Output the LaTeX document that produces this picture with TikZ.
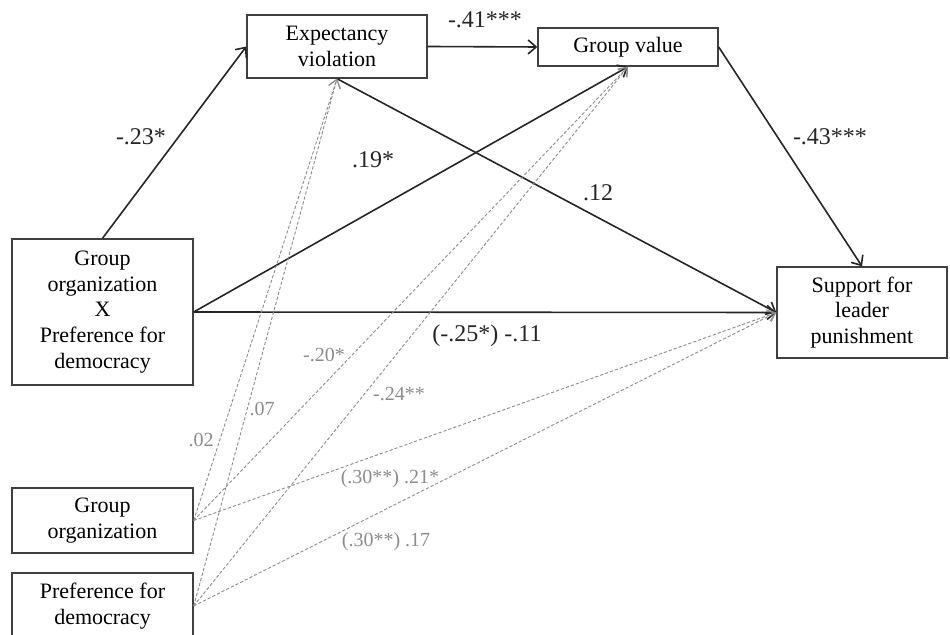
\documentclass[tikz,border=0pt]{standalone}
\usepackage{fontspec}
\setmainfont{Liberation Serif}
\usetikzlibrary{arrows.meta}

\begin{document}
\begin{tikzpicture}[x=0.5pt, y=-0.5pt,
  box/.style={draw=black!75, line width=0.7pt, align=center, inner sep=2pt,
    font=\fontsize{11}{12.8}\selectfont},
  mainarrow/.style={draw=black!85, line width=0.8pt, -{Straight Barb[length=4pt,width=7pt]}},
  ctrlarrow/.style={draw=black!45, line width=0.45pt, dash pattern=on 1.6pt off 1pt,
    -{Straight Barb[length=4pt,width=6pt]}},
  coef/.style={font=\fontsize{12}{14}\selectfont, text=black!85, inner sep=0pt},
  ctrlcoef/.style={font=\fontsize{10}{12}\selectfont, text=black!45, inner sep=0pt}]
  \useasboundingbox (0,0) rectangle (950,635);
  % mediators, outcome and predictors
  \node[box,minimum width=90pt,minimum height=31.5pt] (ev)  at (337,46.5) {Expectancy\\violation};
  \node[box,minimum width=90pt,minimum height=19pt]   (gv)  at (628,47)   {Group value};
  \node[box,minimum width=85pt,minimum height=45.5pt] (sup) at (862,312.5) {Support for\\leader\\punishment};
  \node[box,minimum width=90.5pt,minimum height=73pt] (gxp) at (102.5,312) {Group\\organization\\X\\Preference for\\democracy};
  \node[box,minimum width=90.5pt,minimum height=32.5pt] (go) at (102.5,520.5) {Group\\organization};
  \node[box,minimum width=90.5pt,minimum height=33pt] (pd)  at (102.5,606) {Preference for\\democracy};
  % main paths
  \draw[mainarrow] (gxp.north) -- (ev.west);
  \draw[mainarrow] (ev.east) -- (gv.west);
  \draw[mainarrow] (gv.east) -- (sup.north);
  \draw[mainarrow] (ev.south) -- (sup.west);
  \draw[mainarrow] (gxp.east) -- (gv.south);
  \draw[mainarrow] (gxp.east) -- (sup.west);
  % control paths
  \foreach \src in {go,pd}{
    \draw[ctrlarrow] (\src.east) -- (ev.south);
    \draw[ctrlarrow] (\src.east) -- (gv.south);
    \draw[ctrlarrow] (\src.east) -- (sup.west);
  }
  % coefficients
  \node[coef] (c1) at (141,137) {-.23*};
  \node[coef] (c2) at (485,20)  {-.41***};
  \node[coef] (c3) at (830,137) {-.43***};
  \node[coef] (c4) at (598,193) {.12};
  \node[coef] (c5) at (373,160) {.19*};
  \node[coef] (c6) at (487,336) {(-.25*) -.11};
  \node[ctrlcoef] (d1) at (201,440) {.02};
  \node[ctrlcoef] (d2) at (262,409) {.07};
  \node[ctrlcoef] (d3) at (324,355) {-.20*};
  \node[ctrlcoef] (d4) at (399,394) {-.24**};
  \node[ctrlcoef] (d5) at (390,479) {(.30**) .21*};
  \node[ctrlcoef] (d6) at (386,542) {(.30**) .17};
\end{tikzpicture}
\end{document}
